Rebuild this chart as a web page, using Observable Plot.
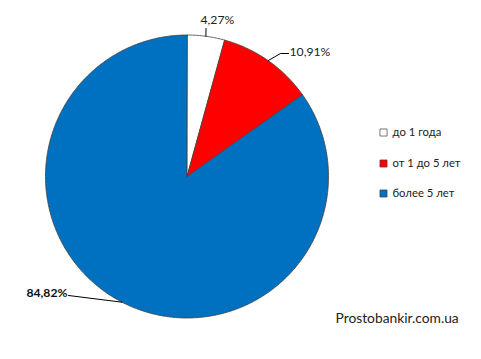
<!DOCTYPE html>
<html><head><meta charset="utf-8">
<script src="https://cdn.jsdelivr.net/npm/d3@7"></script>
<script src="https://cdn.jsdelivr.net/npm/@observablehq/plot@0.6"></script>
<style>html,body{margin:0;padding:0;background:#fff}</style>
</head><body><div id="chart"></div>
<script>
const categories = ["до 1 года", "от 1 до 5 лет", "более 5 лет"];
const values = [4.27, 10.91, 84.82];
const labels = ["4,27%", "10,91%", "84,82%"];
const colors = ["#FFFFFF", "#FF0000", "#0070C0"];
const watermark = "Prostobankir.com.ua";

// layout (pixels)
const W = 481, H = 359, CX = 186.5, CY = 176, R = 141.5;
const X = px => (px - CX) / R;
const Y = py => (CY - py) / R;

const pie = d3.pie().sort(null).value(d => d.value);
const arcs = pie(categories.map((c, i) => ({name: c, value: values[i], label: labels[i]})));

const pts = [];
for (const a of arcs) {
  const n = Math.max(2, Math.ceil((a.endAngle - a.startAngle) / 0.01));
  pts.push({name: a.data.name, x: 0, y: 0});
  for (let k = 0; k <= n; k++) {
    const t = a.startAngle + (a.endAngle - a.startAngle) * k / n;
    pts.push({name: a.data.name, x: Math.sin(t), y: Math.cos(t)});
  }
}

// leader lines: edge at slice mid-angle -> elbow -> end (pixel elbows)
const elbows = [[[205.5, 28]], [[280, 53], [288, 53]], [[68, 295]]];
const leaders = [];
arcs.forEach((a, i) => {
  const m = (a.startAngle + a.endAngle) / 2;
  leaders.push({name: a.data.name, x: Math.sin(m), y: Math.cos(m)});
  for (const [px, py] of elbows[i]) leaders.push({name: a.data.name, x: X(px), y: Y(py)});
});
const labelAnchors = [
  {x: X(200), y: Y(20)},
  {x: X(289), y: Y(52)},
  {x: X(67), y: Y(293)}
];
const labelData = arcs.map((a, i) => ({...labelAnchors[i], text: a.data.label}));

const legendY = [132, 163, 193];
const legendData = categories.map((c, i) => ({name: c, x: X(383), tx: X(392), y: Y(legendY[i])}));

const chart = Plot.plot({
  width: W, height: H, margin: 0,
  style: {fontFamily: "Lato, 'Open Sans', sans-serif", background: "#fff"},
  x: {type: "linear", domain: [-1, 1], range: [CX - R, CX + R], axis: null},
  y: {type: "linear", domain: [-1, 1], range: [CY + R, CY - R], axis: null},
  color: {type: "ordinal", domain: categories, range: colors},
  marks: [
    Plot.line(pts, {x: "x", y: "y", z: "name", fill: "name", stroke: "#404040", strokeWidth: 0.8, curve: "linear-closed"}),
    Plot.line(leaders, {x: "x", y: "y", z: "name", stroke: "#000", strokeWidth: 1}),
    Plot.text(labelData.slice(0, 2), {x: "x", y: "y", text: "text", textAnchor: "start", fontSize: 12.2, fill: "#222"}),
    Plot.text(labelData.slice(2), {x: "x", y: "y", text: "text", textAnchor: "end", fontWeight: "bold", fontSize: 12.2, fill: "#111"}),
    Plot.dot(legendData, {x: "x", y: "y", symbol: "square", r: 4, fill: "name", stroke: "#404040", strokeWidth: 0.7}),
    Plot.text(legendData, {x: "tx", y: "y", text: "name", textAnchor: "start", fontSize: 11.3, fill: "#222"}),
    Plot.text([watermark], {x: X(335), y: Y(318), text: d => d, textAnchor: "start", fontSize: 13.8, fill: "#222"})
  ]
});
document.getElementById("chart").appendChild(chart);
</script></body></html>
